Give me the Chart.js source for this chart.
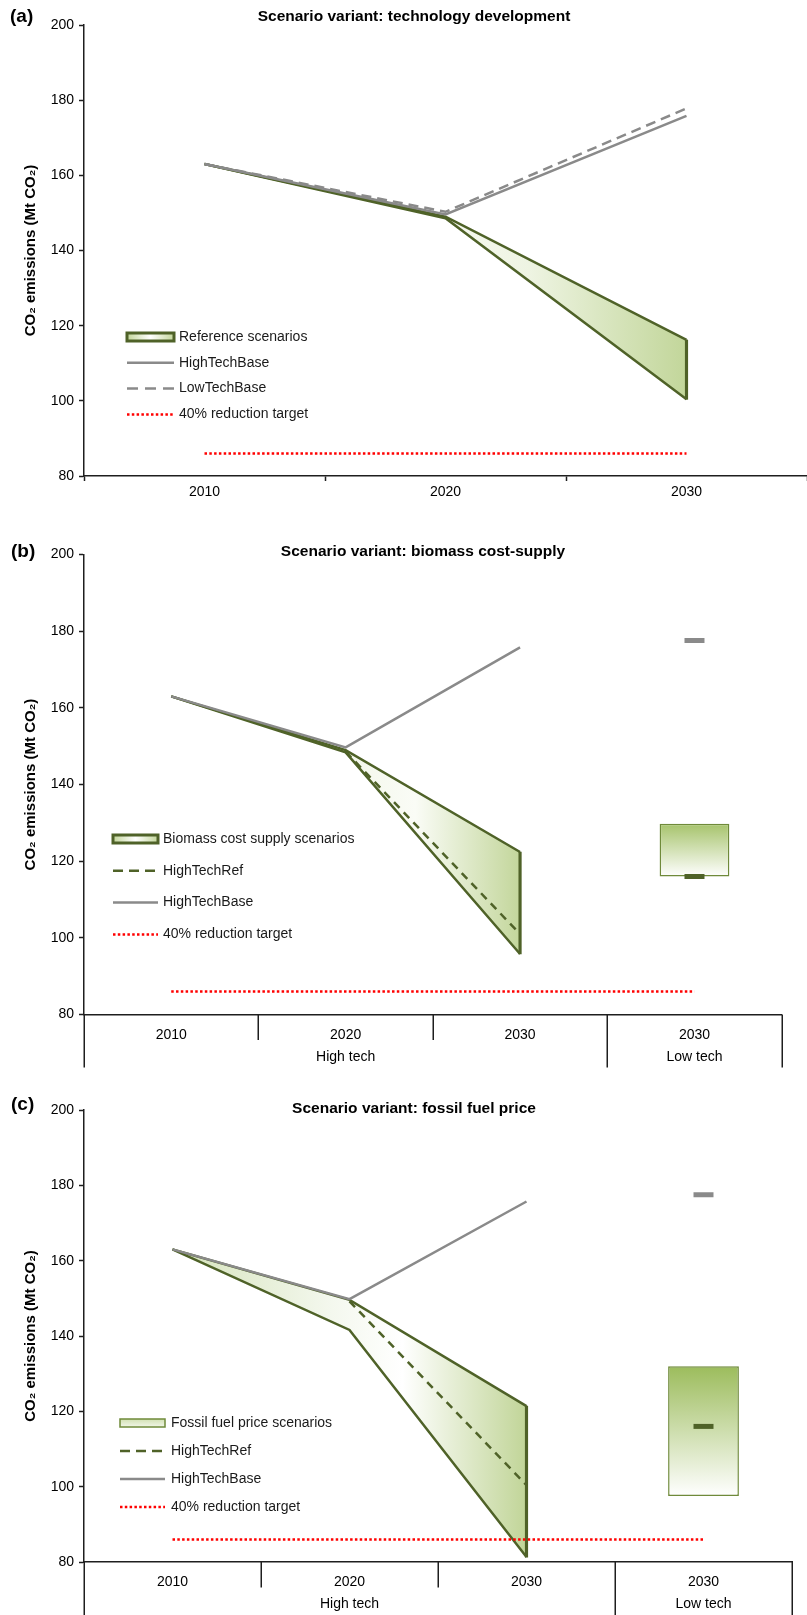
<!DOCTYPE html>
<html>
<head>
<meta charset="utf-8">
<script src="https://cdn.jsdelivr.net/npm/chart.js@4.4.1/dist/chart.umd.min.js"></script>
<style>
  html, body { margin: 0; padding: 0; background: #fff; }
  #page { position: relative; width: 807px; height: 1615px; }
  canvas { position: absolute; left: 0; }
</style>
</head>
<body>
<div id="page">
  <canvas id="chartA" width="807" height="510" style="top:0px"></canvas>
  <canvas id="chartB" width="807" height="572" style="top:510px"></canvas>
  <canvas id="chartC" width="807" height="533" style="top:1082px"></canvas>
</div>
<script>
// --- data (Mt CO2) ---
const target40 = 86;

// (a) technology development
const techYears = ['2010', '2020', '2030'];
const techHighTechBase = [163, 149.6, 175.8];
const techLowTechBase = [163, 150.3, 177.8];
const techRefUpper = [163, 149.0, 116.2];
const techRefLower = [163, 148.6, 100.4];

// (b) biomass cost-supply
const bioYears = ['2010', '2020', '2030', '2030'];
const bioGroups = ['High tech', 'High tech', 'High tech', 'Low tech'];
const bioHighTechBase = [163, 149.7, 175.8];
const bioHighTechRef = [null, 148.6, 101.0];
const bioUpper = [163, 149.0, 122.4];
const bioLower = [163, 148.4, 95.8];
const bioLowTechBase = 177.6;
const bioLowTechRef = 116.0;
const bioLowTechRange = [116.0, 129.8];

// (c) fossil fuel price
const fossilYears = ['2010', '2020', '2030', '2030'];
const fossilGroups = ['High tech', 'High tech', 'High tech', 'Low tech'];
const fossilHighTechBase = [163, 149.8, 175.7];
const fossilHighTechRef = [null, 149.2, 100.4];
const fossilUpper = [163, 149.6, 121.4];
const fossilLower = [163, 141.6, 81.3];
const fossilLowTechBase = 177.5;
const fossilLowTechRef = 116.0;
const fossilLowTechRange = [97.5, 132.0];

const OLIVE = '#4f6228';
const GREY = '#8a8a8a';
const RED = '#ff0000';
const AXIS = '#1e1e1e';
const FONT = "'Liberation Sans', Arial, sans-serif";

Chart.defaults.font.family = FONT;
Chart.defaults.font.size = 14;
Chart.defaults.color = '#000';
Chart.defaults.animation = false;

// helpers
const pad = (arr, n) => arr.concat(Array(n - arr.length).fill(null));
const only = (i, v, n) => Array.from({length: n}, (_, k) => (k === i ? v : null));
const flat = (v, n) => Array(n).fill(v);

function hGradient(from, to, stops) {
  return ctx => {
    const chart = ctx.chart;
    if (!chart.chartArea) return 'rgba(0,0,0,0)';
    const x = chart.scales.x;
    const g = chart.ctx.createLinearGradient(x.getPixelForValue(from), 0, x.getPixelForValue(to), 0);
    stops.forEach(([p, c]) => g.addColorStop(p, c));
    return g;
  };
}

function vGradient(range, top, bottom) {
  return ctx => {
    const chart = ctx.chart;
    if (!chart.chartArea) return top;
    const y = chart.scales.y;
    const g = chart.ctx.createLinearGradient(0, y.getPixelForValue(range[1]), 0, y.getPixelForValue(range[0]));
    g.addColorStop(0, top);
    g.addColorStop(1, bottom);
    return g;
  };
}

function yAxis() {
  return {
    min: 80, max: 200,
    ticks: { stepSize: 20, padding: 5, color: '#000' },
    grid: { drawOnChartArea: false, tickLength: 5, tickColor: AXIS, tickWidth: 1.5 },
    border: { color: AXIS, width: 1.5 },
    title: { display: true, text: 'CO₂ emissions (Mt CO₂)', color: '#000',
             font: { size: 15, weight: 'bold' }, padding: 22 },
    afterFit: s => { s.width = 84; }
  };
}

function drawIcon(c, it, x, y, w) {
  c.save();
  if (it.kind === 'band') {
    const g = c.createLinearGradient(x, 0, x + w, 0);
    if (it.thick) {
      g.addColorStop(0, '#c3d69b'); g.addColorStop(0.5, '#ffffff'); g.addColorStop(1, '#c3d69b');
      c.fillStyle = g; c.fillRect(x, y - 4.5, w, 9);
      c.strokeStyle = OLIVE; c.lineWidth = 3; c.strokeRect(x, y - 4, w, 8);
    } else {
      const gv = c.createLinearGradient(0, y - 4, 0, y + 4);
      gv.addColorStop(0, '#d2e1b3'); gv.addColorStop(1, '#f1f6e8');
      c.fillStyle = gv; c.fillRect(x, y - 4, w, 8);
      c.strokeStyle = '#6f8a3a'; c.lineWidth = 1.5; c.strokeRect(x, y - 4, w, 8);
    }
  } else {
    c.strokeStyle = it.color; c.lineWidth = it.width || 2.5;
    c.setLineDash(it.dash || []);
    c.beginPath(); c.moveTo(x, y); c.lineTo(x + w, y); c.stroke();
  }
  c.restore();
}

// titles, panel letters, legend and the grouped category axis
function makeDecor(cfg) {
  return {
    id: 'decor',
    afterDraw(chart) {
      const c = chart.ctx;
      c.save();
      c.fillStyle = '#000';
      c.textBaseline = 'middle';
      c.textAlign = 'left';
      c.font = 'bold 19px ' + FONT;
      c.fillText(cfg.letter, cfg.letterX, cfg.letterY);
      c.textAlign = 'center';
      c.font = 'bold 15.5px ' + FONT;
      c.fillText(cfg.title, cfg.titleX, cfg.titleY);

      const L = cfg.legend;
      L.items.forEach((it, i) => {
        const y = L.y + i * L.dy;
        drawIcon(c, it, L.x, y, L.w);
        c.font = '14px ' + FONT;
        c.textAlign = 'left';
        c.fillStyle = '#1a1a1a';
        c.fillText(it.text, L.textX, y);
      });

      if (cfg.groups) {
        const xs = chart.scales.x;
        const n = cfg.groups.length;
        const step = xs.getPixelForValue(1) - xs.getPixelForValue(0);
        const edge = k => xs.getPixelForValue(k) - step / 2;
        const top = chart.chartArea.bottom;
        c.strokeStyle = AXIS;
        c.lineWidth = 1.5;
        for (let k = 0; k <= n; k++) {
          const isGroupEdge = k === 0 || k === n || cfg.groups[k] !== cfg.groups[k - 1];
          const px = Math.round(edge(k)) + 0.25;
          c.beginPath();
          c.moveTo(px, top);
          c.lineTo(px, top + (isGroupEdge ? cfg.longSep : cfg.shortSep));
          c.stroke();
        }
        c.fillStyle = '#000';
        c.font = '14px ' + FONT;
        c.textAlign = 'center';
        let start = 0;
        for (let k = 1; k <= n; k++) {
          if (k === n || cfg.groups[k] !== cfg.groups[start]) {
            c.fillText(cfg.groups[start], (edge(start) + edge(k)) / 2, top + cfg.groupY);
            start = k;
          }
        }
      }
      c.restore();
    }
  };
}

function lineDs(label, data, color, opts) {
  return Object.assign({
    type: 'line', label, data, borderColor: color, backgroundColor: color,
    borderWidth: 2.5, pointRadius: 0, tension: 0, fill: false, spanGaps: false
  }, opts || {});
}

function markerDs(label, data, color, order) {
  return {
    type: 'line', label, data, showLine: false, order,
    pointStyle: 'line', pointRadius: 10, pointHoverRadius: 10,
    pointBorderWidth: 5, pointBorderColor: color, borderColor: color, backgroundColor: color
  };
}

const baseOptions = (xAxis, padTop, padRight) => ({
  responsive: false,
  animation: false,
  layout: { padding: { top: padTop, right: padRight, left: 0, bottom: 0 } },
  plugins: { legend: { display: false }, tooltip: { enabled: false } },
  scales: { x: xAxis, y: yAxis() }
});

// ---------- (a) ----------
(function () {
  const n = techYears.length;
  new Chart(document.getElementById('chartA'), {
    type: 'line',
    data: {
      labels: techYears,
      datasets: [
        lineDs('40% reduction target', flat(target40, n), RED, { borderDash: [2.5, 2.3], order: 0 }),
        lineDs('HighTechBase', techHighTechBase, GREY, { order: 1 }),
        lineDs('LowTechBase', techLowTechBase, GREY, { borderDash: [10, 6], order: 1 }),
        lineDs('Reference scenarios', techRefUpper, OLIVE, {
          fill: { target: 4 }, order: 4,
          backgroundColor: hGradient(1, 2, [[0, '#f6f9ef'], [0.35, '#eef4e2'], [1, '#c2d69a']])
        }),
        lineDs('Reference lower', techRefLower, OLIVE, { order: 3 }),
        { type: 'bar', label: 'edge', data: only(2, [techRefLower[2], techRefUpper[2]], n),
          backgroundColor: OLIVE, barThickness: 2.5, grouped: false, order: 3 }
      ]
    },
    options: baseOptions({
      offset: true,
      ticks: { padding: 3, color: '#000' },
      grid: { offset: true, drawOnChartArea: false, tickLength: 5, tickColor: AXIS, tickWidth: 1.5 },
      border: { color: AXIS, width: 1.5 },
      afterFit: s => { s.height = 34; }
    }, 25, 0),
    plugins: [makeDecor({
      letter: '(a)', letterX: 10, letterY: 17,
      title: 'Scenario variant: technology development', titleX: 414, titleY: 17,
      legend: { x: 127, w: 47, textX: 179, y: 337, dy: 25.8, items: [
        { kind: 'band', thick: true, text: 'Reference scenarios' },
        { kind: 'line', color: GREY, text: 'HighTechBase' },
        { kind: 'line', color: GREY, dash: [11, 7], text: 'LowTechBase' },
        { kind: 'line', color: RED, dash: [2.5, 2.3], text: '40% reduction target' }
      ] }
    })]
  });
})();

// grouped x axis for (b) and (c)
function groupedX(height, labelPad) {
  return {
    offset: true,
    ticks: { padding: labelPad, color: '#000' },
    grid: { display: false, offset: true },
    border: { color: AXIS, width: 1.5 },
    afterFit: s => { s.height = height; }
  };
}

function variantChart(id, years, groups, s, decor, xHeight, padTop, padRight, bandFill) {
  const n = years.length;
  const lt = n - 1;
  new Chart(document.getElementById(id), {
    type: 'line',
    data: {
      labels: years,
      datasets: [
        lineDs('40% reduction target', flat(target40, n), RED, { borderDash: [2.5, 2.3], order: 0 }),
        lineDs('HighTechBase', pad(s.base, n), GREY, { order: 1 }),
        markerDs('LowTechBase', only(lt, s.lowBase, n), GREY, 1),
        lineDs('HighTechRef', pad(s.ref, n), OLIVE, { borderDash: [8, 6], order: 2 }),
        markerDs('LowTechRef', only(lt, s.lowRef, n), OLIVE, 0),
        lineDs('Scenarios upper', pad(s.upper, n), OLIVE, {
          fill: { target: 6 }, order: 4, backgroundColor: bandFill
        }),
        lineDs('Scenarios lower', pad(s.lower, n), OLIVE, { order: 3 }),
        { type: 'bar', label: 'edge', data: only(2, [s.lower[2], s.upper[2]], n),
          backgroundColor: OLIVE, barThickness: 2.5, grouped: false, order: 3 },
        { type: 'bar', label: 'Low tech range', data: only(lt, s.lowRange, n),
          backgroundColor: vGradient(s.lowRange, s.boxTop, '#ffffff'),
          borderColor: '#6f8a3a', borderWidth: 1.5, borderSkipped: false,
          barPercentage: 0.4, categoryPercentage: 1, grouped: false, order: 5 }
      ]
    },
    options: baseOptions(groupedX(xHeight, 4), padTop, padRight),
    plugins: [makeDecor(Object.assign({ groups, shortSep: 25.5, longSep: 53, groupY: 42.5 }, decor))]
  });
}

// ---------- (b) ----------
variantChart('chartB', bioYears, bioGroups, {
  base: bioHighTechBase, ref: bioHighTechRef, upper: bioUpper, lower: bioLower,
  lowBase: bioLowTechBase, lowRef: bioLowTechRef, lowRange: bioLowTechRange, boxTop: '#a6c36b'
}, {
  letter: '(b)', letterX: 11, letterY: 42,
  title: 'Scenario variant: biomass cost-supply', titleX: 423, titleY: 42,
  legend: { x: 113, w: 45, textX: 163, y: 329, dy: 31.8, items: [
    { kind: 'band', thick: true, text: 'Biomass cost supply scenarios' },
    { kind: 'line', color: OLIVE, dash: [10, 6], text: 'HighTechRef' },
    { kind: 'line', color: GREY, text: 'HighTechBase' },
    { kind: 'line', color: RED, dash: [2.5, 2.3], text: '40% reduction target' }
  ] }
}, 67.5, 44.6, 25.3,
  hGradient(1, 2, [[0, '#f3f7ea'], [0.4, '#fafcf6'], [1, '#c3d69b']]));

// ---------- (c) ----------
variantChart('chartC', fossilYears, fossilGroups, {
  base: fossilHighTechBase, ref: fossilHighTechRef, upper: fossilUpper, lower: fossilLower,
  lowBase: fossilLowTechBase, lowRef: fossilLowTechRef, lowRange: fossilLowTechRange, boxTop: '#9cbc5c'
}, {
  letter: '(c)', letterX: 11, letterY: 23,
  title: 'Scenario variant: fossil fuel price', titleX: 414, titleY: 27,
  legend: { x: 120, w: 45, textX: 171, y: 341, dy: 28, items: [
    { kind: 'band', thick: false, text: 'Fossil fuel price scenarios' },
    { kind: 'line', color: OLIVE, dash: [10, 6], text: 'HighTechRef' },
    { kind: 'line', color: GREY, text: 'HighTechBase' },
    { kind: 'line', color: RED, dash: [2.5, 2.3], text: '40% reduction target' }
  ] }
}, 53, 28, 1,
  hGradient(0, 2, [[0, '#d5e3bb'], [0.45, '#f4f8ee'], [0.65, '#ffffff'], [1, '#c1d598']]));
</script>
</body>
</html>
